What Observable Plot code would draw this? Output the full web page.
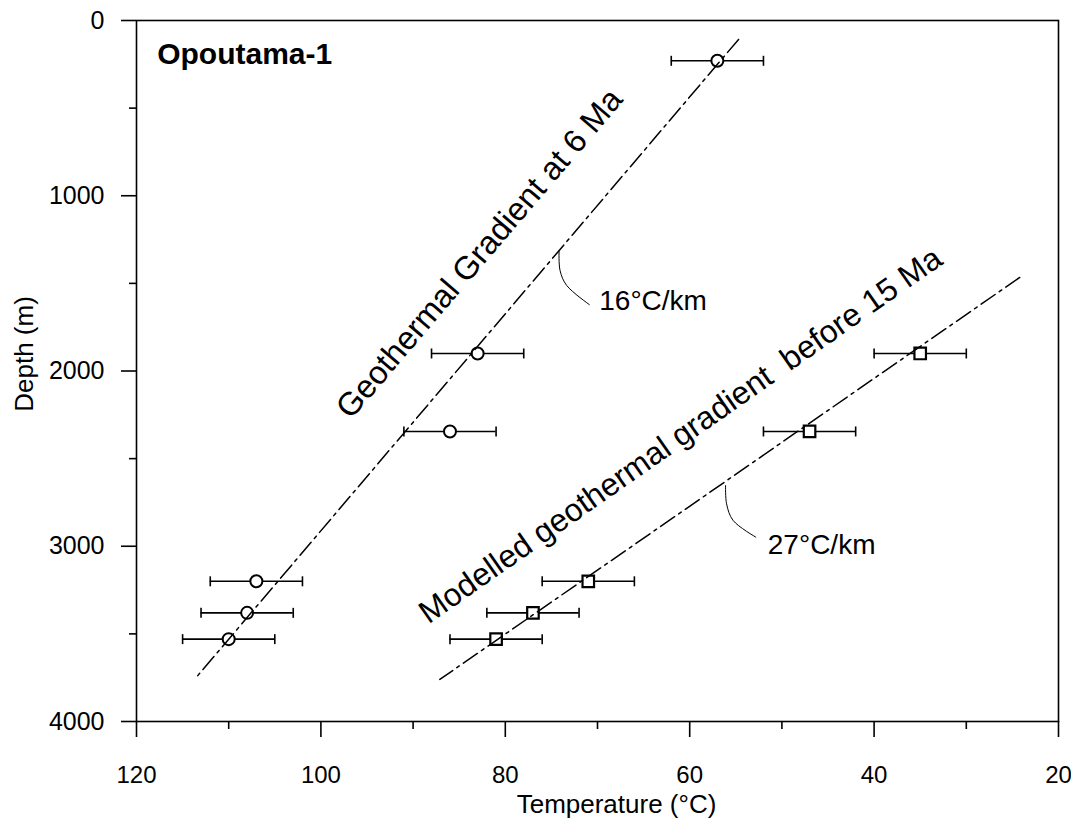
<!DOCTYPE html>
<html>
<head>
<meta charset="utf-8">
<script src="https://cdn.jsdelivr.net/npm/d3@7"></script>
<script src="https://cdn.jsdelivr.net/npm/@observablehq/plot@0.6"></script>
<style>
html, body { margin: 0; padding: 0; background: #fff; }
</style>
</head>
<body>
<div id="chart"></div>
<script>
// ---- Data (temperature in °C, depth in m) ----
const circleTemp = [57, 83, 86, 107, 108, 110];
const circleDepth = [230, 1900, 2345, 3200, 3380, 3530];
const squareTemp = [35, 47, 71, 77, 81];
const squareDepth = [1900, 2345, 3200, 3380, 3530];
const errorHalfWidth = 5;

const gradient6Temp = [54.7, 113.5];
const gradient6Depth = [108, 3747];
const gradient15Temp = [24.2, 87.1];
const gradient15Depth = [1466, 3760];

const leader16Temp = [74.17, 74.06, 73.34, 70.89];
const leader16Depth = [1316, 1427, 1512, 1621];
const leader27Temp = [56.11, 56.0, 55.29, 52.83];
const leader27Depth = [2653, 2758, 2853, 2948];

const rateLabels = ["16°C/km", "27°C/km"];
const rateLabelTemp = [69.81, 51.53];
const rateLabelDepth = [1599, 2992];

const gradientLabels = ["Geothermal Gradient at 6 Ma", "Modelled geothermal gradient\u00a0\u00a0before 15 Ma"];
const gradientLabelTemp = [82.8, 61.0];
const gradientLabelDepth = [1330, 2368];

const wellName = "Opoutama-1";
const wellNameTemp = 117.76;
const wellNameDepth = 192;

const xMajorTicks = [20, 40, 60, 80, 100, 120];
const xMinorTicks = [30, 50, 70, 90, 110];
const yMajorTicks = [0, 1000, 2000, 3000, 4000];
const yMinorTicks = [500, 1500, 2500, 3500];
const xTitle = "Temperature (°C)";
const yTitle = "Depth (m)";

// ---- Build tables ----
const zip = (ts, ds) => ts.map((t, i) => ({t, d: ds[i]}));
const circles = zip(circleTemp, circleDepth);
const squares = zip(squareTemp, squareDepth);
const points = [...circles, ...squares];
const grad6 = zip(gradient6Temp, gradient6Depth);
const grad15 = zip(gradient15Temp, gradient15Depth);
const leader16 = zip(leader16Temp, leader16Depth);
const leader27 = zip(leader27Temp, leader27Depth);
const rateTable = rateLabels.map((s, i) => ({s, t: rateLabelTemp[i], d: rateLabelDepth[i]}));

const vbar = {draw(ctx, size) { const r = Math.sqrt(size / Math.PI); ctx.moveTo(0, -r); ctx.lineTo(0, r); }};
const dash = "17,5,3,5";
const fmt = d => String(d);

const chart = Plot.plot({
  width: 1071,
  height: 823,
  marginTop: 20,
  marginBottom: 102,
  marginLeft: 136,
  marginRight: 13,
  style: {fontFamily: '"Liberation Sans", Arial, sans-serif', background: "white", color: "black"},
  x: {domain: [120, 20]},
  y: {domain: [0, 4000], reverse: true},
  marks: [
    Plot.axisX({ticks: xMajorTicks, tickSize: 16, tickPadding: 28, fontSize: 24, label: null, tickFormat: fmt, strokeWidth: 1.6}),
    Plot.axisX({ticks: xMinorTicks, tickSize: 8, fill: "none", label: null, strokeWidth: 1.6}),
    Plot.axisY({ticks: yMajorTicks, tickSize: 15, tickPadding: 17, fontSize: 25, label: null, tickFormat: fmt, strokeWidth: 1.6}),
    Plot.axisY({ticks: yMinorTicks, tickSize: 7, fill: "none", label: null, strokeWidth: 1.6}),
    Plot.frame({stroke: "black", strokeWidth: 1.6}),
    // error bars
    Plot.ruleY(points, {y: "d", x1: p => p.t - errorHalfWidth, x2: p => p.t + errorHalfWidth, stroke: "black", strokeWidth: 1.6}),
    Plot.dot(points, {x: p => p.t - errorHalfWidth, y: "d", symbol: vbar, r: 5, stroke: "black", fill: "none", strokeWidth: 1.6}),
    Plot.dot(points, {x: p => p.t + errorHalfWidth, y: "d", symbol: vbar, r: 5, stroke: "black", fill: "none", strokeWidth: 1.6}),
    // symbols
    Plot.dot(circles, {x: "t", y: "d", symbol: "circle", r: 6, stroke: "black", fill: "white", strokeWidth: 2}),
    Plot.dot(squares, {x: "t", y: "d", symbol: "square", r: 6.5, stroke: "black", fill: "white", strokeWidth: 2.2}),
    // gradient lines
    Plot.line(grad6, {x: "t", y: "d", stroke: "black", strokeWidth: 1.5, strokeDasharray: dash}),
    Plot.line(grad15, {x: "t", y: "d", stroke: "black", strokeWidth: 1.5, strokeDasharray: dash}),
    // leaders
    Plot.line(leader16, {x: "t", y: "d", curve: "catmull-rom", stroke: "black", strokeWidth: 1}),
    Plot.line(leader27, {x: "t", y: "d", curve: "catmull-rom", stroke: "black", strokeWidth: 1}),
    // labels
    Plot.text(rateTable, {x: "t", y: "d", text: "s", textAnchor: "start", fontSize: 28, fill: "black"}),
    Plot.text([gradientLabels[0]], {x: () => gradientLabelTemp[0], y: () => gradientLabelDepth[0], text: s => s, rotate: -49.5, fontSize: 32.5, fill: "black"}),
    Plot.text([gradientLabels[1]], {x: () => gradientLabelTemp[1], y: () => gradientLabelDepth[1], text: s => s, rotate: -35, fontSize: 32, fill: "black"}),
    Plot.text([wellName], {x: () => wellNameTemp, y: () => wellNameDepth, text: s => s, textAnchor: "start", fontSize: 30, fontWeight: "bold", fill: "black"}),
    // axis titles
    Plot.text([xTitle], {frameAnchor: "bottom", text: s => s, textAnchor: "middle", lineAnchor: "middle", dx: 19, dy: 83, fontSize: 26, fill: "black"}),
    Plot.text([yTitle], {frameAnchor: "left", text: s => s, textAnchor: "middle", lineAnchor: "middle", rotate: -90, dx: -112, dy: -17, fontSize: 26, fill: "black"})
  ]
});
document.getElementById("chart").appendChild(chart);
</script>
</body>
</html>
